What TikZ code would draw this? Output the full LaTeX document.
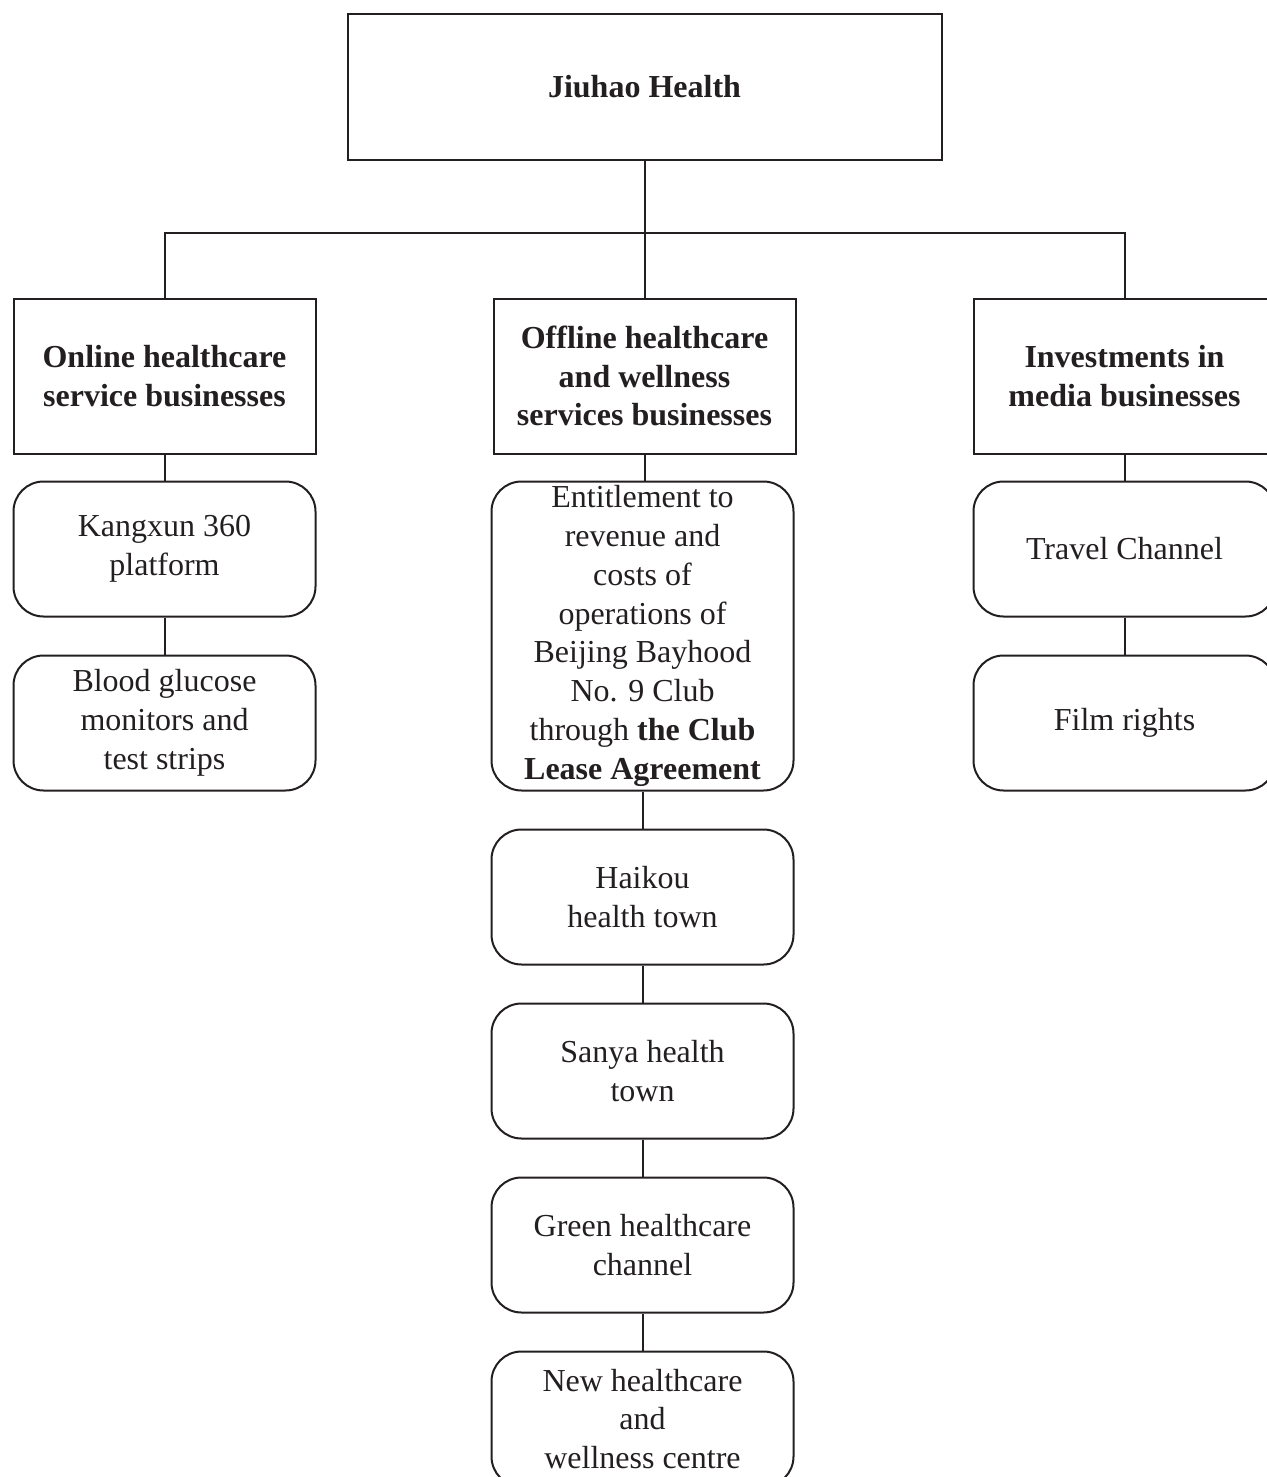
\documentclass[tikz,border=0pt]{standalone}
\usepackage{fontspec}
\setmainfont{Liberation Serif}
\usepackage{tikz}
\usetikzlibrary{positioning}
\definecolor{lineBlack}{HTML}{231F20}

\tikzset{
  orgbox/.style={draw=lineBlack, line width=1pt, align=center, inner sep=2pt,
                 minimum width=151pt, minimum height=77.5pt,
                 font=\fontsize{16}{19.4}\selectfont\bfseries},
  itembox/.style={draw=lineBlack, line width=1pt, rounded corners=15pt, align=center,
                  inner sep=2pt, minimum width=151pt, minimum height=67.5pt},
  link/.style={draw=lineBlack, line width=1pt}
}

\begin{document}
\begin{tikzpicture}[x=1pt, y=1pt, font=\fontsize{16}{19.4}\selectfont, text=lineBlack,
                    node distance=18.5pt]
  \useasboundingbox (0,0) rectangle (633,-738.5);

  \node[orgbox, minimum width=297pt, minimum height=72.5pt] (jiuhao) at (322.25,-43.5) {Jiuhao Health};

  % second level
  \node[orgbox, below=68.5pt of jiuhao] (offline) {Offline healthcare\\and wellness\\services businesses};
  \node[orgbox, left=88pt of offline] (online) {Online healthcare\\service businesses};
  \node[orgbox, right=88pt of offline] (media) {Investments in\\media businesses};

  % online
  \node[itembox, below=13pt of online] (kangxun) {Kangxun 360\\platform};
  \node[itembox, below=of kangxun] (glucose) {Blood glucose\\monitors and\\test strips};

  % offline
  \node[itembox, below=13pt of offline, xshift=-1pt, minimum height=154.5pt] (club)
    {Entitlement to\\revenue and\\costs of\\operations of\\Beijing Bayhood\\No. 9 Club\\through \textbf{the Club}\\\textbf{Lease Agreement}};
  \node[itembox, below=of club] (haikou) {Haikou\\health town};
  \node[itembox, below=of haikou] (sanya) {Sanya health\\town};
  \node[itembox, below=of sanya] (green) {Green healthcare\\channel};
  \node[itembox, below=of green] (newcentre) {New healthcare\\and\\wellness centre};

  % media
  \node[itembox, below=13pt of media] (travel) {Travel Channel};
  \node[itembox, below=of travel] (film) {Film rights};

  % connectors
  \coordinate[below=36pt of jiuhao.south] (bus);
  \draw[link] (jiuhao.south) -- (offline.north);
  \draw[link] (online.north) |- (bus) -| (media.north);

  \draw[link] (online) -- (kangxun);
  \draw[link] (kangxun) -- (glucose);
  \draw[link] (offline.south) -- (offline.south |- club.north);
  \draw[link] (club) -- (haikou);
  \draw[link] (haikou) -- (sanya);
  \draw[link] (sanya) -- (green);
  \draw[link] (green) -- (newcentre);
  \draw[link] (media) -- (travel);
  \draw[link] (travel) -- (film);
\end{tikzpicture}
\end{document}
